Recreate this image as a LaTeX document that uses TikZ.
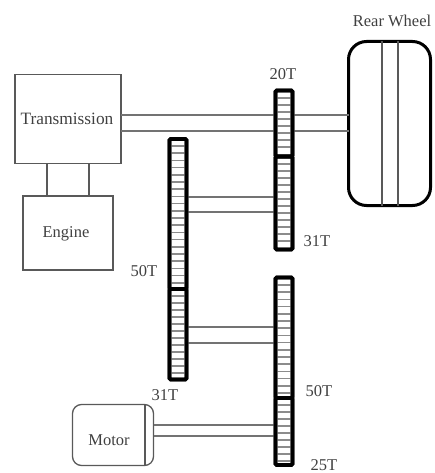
\documentclass[tikz,border=0pt]{standalone}
\usepackage{fontspec}
\setmainfont{Liberation Serif}
\definecolor{ln}{gray}{0.35}
\definecolor{txt}{gray}{0.25}
\newcommand{\gearteeth}[5]{% x1 y1 x2 y2 second-y
  \foreach \yy in {#2,#5,...,#4} {\draw[tooth] (#1,\yy) -- (#3,\yy);}
}
\tikzset{
  box/.style={draw=ln,line width=1.3pt,fill=white,inner sep=0pt,outer sep=0pt,anchor=north west},
  gear/.style={draw=black,line width=3.6pt,rounded corners=1.2pt,inner sep=0pt,outer sep=0pt,anchor=north west,minimum width=17pt},
  tooth/.style={draw=black!45,line width=1.6pt},
  shaft/.style={draw=black!55,line width=1.5pt},
  thin/.style={draw=ln,line width=1.3pt},
  lab/.style={font=\fontsize{16.5}{18}\selectfont,text=txt,inner sep=0pt}
}
\begin{document}
\begin{tikzpicture}[x=1pt,y=-1pt]
\useasboundingbox (0,0) rectangle (434,473);
\node[box,minimum width=106pt,minimum height=89pt] (trans) at (15,74.5) {};
\node[box,minimum width=90pt,minimum height=74pt] (engine) at (23,196) {};
\node[box,draw=black,line width=3pt,rounded corners=18pt,minimum width=82pt,minimum height=164pt] (wheel) at (348.5,41.5) {};
\node[box,rounded corners=9pt,minimum width=81pt,minimum height=61pt] (motor) at (72.5,404.5) {};
% gears
\node[gear,minimum height=66pt] (gA) at (275.5,90.5) {};
\node[gear,minimum height=93pt] (gB) at (275.5,156.5) {};
\node[gear,minimum height=150pt] (gC) at (169.5,139) {};
\node[gear,minimum height=90.5pt] (gD) at (169.5,289) {};
\node[gear,minimum height=120.5pt] (gE) at (275.5,277.5) {};
\node[gear,minimum height=67pt] (gF) at (275.5,398) {};
% shafts
\draw[shaft] (trans.east |- 0,115) -- (gA.west |- 0,115);
\draw[shaft] (trans.east |- 0,131) -- (gA.west |- 0,131);
\draw[shaft] (gA.east |- 0,115) -- (wheel.west |- 0,115);
\draw[shaft] (gA.east |- 0,131) -- (wheel.west |- 0,131);
\draw[shaft] (gC.east |- 0,197) -- (gB.west |- 0,197);
\draw[shaft] (gC.east |- 0,212) -- (gB.west |- 0,212);
\draw[shaft] (gD.east |- 0,327) -- (gE.west |- 0,327);
\draw[shaft] (gD.east |- 0,343) -- (gE.west |- 0,343);
\draw[shaft] (motor.east |- 0,425) -- (gF.west |- 0,425);
\draw[shaft] (motor.east |- 0,436) -- (gF.west |- 0,436);
% coupling transmission-engine
\draw[thin] (47,0 |- trans.south) -- (47,0 |- engine.north);
\draw[thin] (89,0 |- trans.south) -- (89,0 |- engine.north);
% wheel tread
\draw[thin] (382,0 |- wheel.north) -- (382,0 |- wheel.south);
\draw[thin] (398,0 |- wheel.north) -- (398,0 |- wheel.south);
% motor end cap
\draw[thin] (145,0 |- motor.north) -- (145,0 |- motor.south);
% gear teeth
\gearteeth{276}{98}{292}{151}{105}
\gearteeth{276}{164}{292}{246}{171}
\gearteeth{170}{146}{186}{286}{153.2}
\gearteeth{170}{296}{186}{376}{303}
\gearteeth{276}{285}{292}{394}{292.2}
\gearteeth{276}{405}{292}{461}{412}
% gear outlines above the teeth
\path[gear] (gA.north west) rectangle (gA.south east);
\path[gear] (gB.north west) rectangle (gB.south east);
\path[gear] (gC.north west) rectangle (gC.south east);
\path[gear] (gD.north west) rectangle (gD.south east);
\path[gear] (gE.north west) rectangle (gE.south east);
\path[gear] (gF.north west) rectangle (gF.south east);
% labels
\node[lab,font=\fontsize{17.3}{18}\selectfont] at (67,119) {Transmission};
\node[lab] at (66,233.5) {Engine};
\node[lab] at (109,440) {Motor};
\node[lab] at (392,21) {Rear Wheel};
\node[lab] at (283,74) {20T};
\node[lab] at (317,241) {31T};
\node[lab] at (144,271) {50T};
\node[lab] at (165,395) {31T};
\node[lab] at (319,391) {50T};
\node[lab] at (324,465) {25T};
\end{tikzpicture}
\end{document}
